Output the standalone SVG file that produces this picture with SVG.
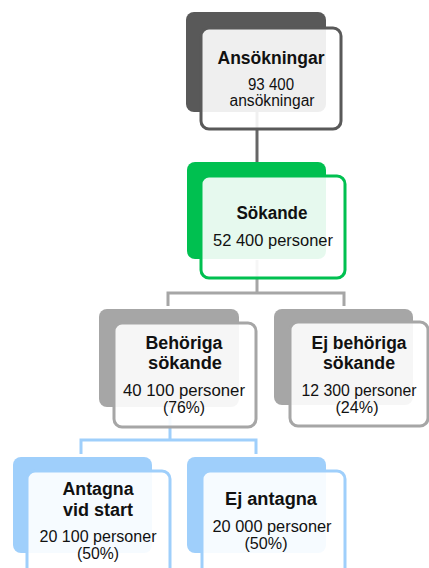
<svg xmlns="http://www.w3.org/2000/svg" width="429" height="568" viewBox="0 0 429 568">
<style>
text{font-family:"Liberation Sans",Arial,sans-serif;fill:#111;text-anchor:middle}
.t{font-size:18px;font-weight:bold}
.b{font-size:16px}
.front{fill:#fff;fill-opacity:0.9;stroke-width:3}
.dk .back{fill:#595959}.dk .front{stroke:#595959}
.gr .back{fill:#00c050}.gr .front{stroke:#00c050}
.gy .back{fill:#a6a6a6}.gy .front{stroke:#a6a6a6}
.bl .back{fill:#9fcffb}.bl .front{stroke:#9fcffb}
.conn{fill:none;stroke-width:3}
</style>
<rect width="429" height="568" fill="#fff"/>
<g id="connectors">
<path class="conn" stroke="#666" d="M257 100V165"/>
<path class="conn" stroke="#a6a6a6" d="M257 260V293M168 306V293H344V306"/>
<path class="conn" stroke="#9fcffb" d="M170 410V440M81 454V440H256V454"/>
</g>
<g id="ansokningar" class="dk">
<rect class="back" x="186" y="12" width="140" height="100" rx="8"/>
<rect class="front" x="201" y="28" width="140" height="101" rx="8"/>
<text class="t" x="271" y="64" textLength="107" lengthAdjust="spacingAndGlyphs">Ansökningar</text>
<text class="b" x="271" y="90" textLength="46" lengthAdjust="spacingAndGlyphs">93 400</text>
<text class="b" x="272" y="106" textLength="85" lengthAdjust="spacingAndGlyphs">ansökningar</text>
</g>
<g id="sokande" class="gr">
<rect class="back" x="187" y="162" width="139" height="97" rx="8"/>
<rect class="front" x="201" y="176" width="144" height="102" rx="8"/>
<text class="t" x="272" y="219" textLength="71" lengthAdjust="spacingAndGlyphs">Sökande</text>
<text class="b" x="273" y="246" textLength="120" lengthAdjust="spacingAndGlyphs">52 400 personer</text>
</g>
<g id="behoriga" class="gy">
<rect class="back" x="99" y="309" width="140" height="98" rx="8"/>
<rect class="front" x="114" y="323" width="142" height="104" rx="8"/>
<text class="t" x="184" y="349" textLength="77" lengthAdjust="spacingAndGlyphs">Behöriga</text>
<text class="t" x="185" y="369" textLength="74" lengthAdjust="spacingAndGlyphs">sökande</text>
<text class="b" x="184" y="396" textLength="122" lengthAdjust="spacingAndGlyphs">40 100  personer</text>
<text class="b" x="184" y="413" textLength="42" lengthAdjust="spacingAndGlyphs">(76%)</text>
</g>
<g id="ej-behoriga" class="gy">
<rect class="back" x="274" y="309" width="139" height="96" rx="8"/>
<rect class="front" x="290" y="322" width="138" height="104" rx="8"/>
<text class="t" x="359" y="349" textLength="95" lengthAdjust="spacingAndGlyphs">Ej behöriga</text>
<text class="t" x="359" y="369" textLength="72" lengthAdjust="spacingAndGlyphs">sökande</text>
<text class="b" x="359" y="396" textLength="115" lengthAdjust="spacingAndGlyphs">12 300 personer</text>
<text class="b" x="357" y="413" textLength="43" lengthAdjust="spacingAndGlyphs">(24%)</text>
</g>
<g id="antagna" class="bl">
<rect class="back" x="13" y="457" width="139" height="96" rx="8"/>
<rect class="front" x="27" y="471" width="143" height="110" rx="8"/>
<text class="t" x="98" y="495" textLength="71" lengthAdjust="spacingAndGlyphs">Antagna</text>
<text class="t" x="98" y="516" textLength="70" lengthAdjust="spacingAndGlyphs">vid start</text>
<text class="b" x="98" y="542" textLength="117" lengthAdjust="spacingAndGlyphs">20 100 personer</text>
<text class="b" x="98" y="559" textLength="42" lengthAdjust="spacingAndGlyphs">(50%)</text>
</g>
<g id="ej-antagna" class="bl">
<rect class="back" x="187" y="457" width="139" height="96" rx="8"/>
<rect class="front" x="202" y="471" width="143" height="110" rx="8"/>
<text class="t" x="271" y="505" textLength="92" lengthAdjust="spacingAndGlyphs">Ej antagna</text>
<text class="b" x="272" y="532" textLength="119" lengthAdjust="spacingAndGlyphs">20 000 personer</text>
<text class="b" x="266" y="549" textLength="43" lengthAdjust="spacingAndGlyphs">(50%)</text>
</g>
</svg>
